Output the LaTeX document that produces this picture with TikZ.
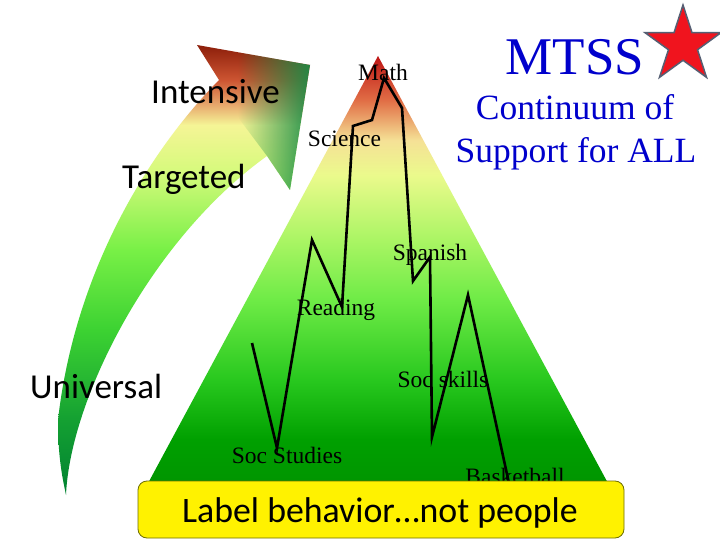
\documentclass[tikz,border=0pt]{standalone}
\usepackage{fontspec}
\setmainfont{Liberation Serif}
\newfontfamily\calib{Carlito}
\usetikzlibrary{shapes.geometric,fadings}

\definecolor{tA}{RGB}{190,20,20}
\definecolor{tB}{RGB}{225,110,70}
\definecolor{tC}{RGB}{245,225,150}
\definecolor{tD}{RGB}{235,250,140}
\definecolor{tE}{RGB}{170,245,100}
\definecolor{tF}{RGB}{110,235,70}
\definecolor{tG}{RGB}{40,200,30}
\definecolor{tH}{RGB}{0,160,0}
\definecolor{tI}{RGB}{0,145,0}
\pgfdeclareverticalshading{trishade}{100bp}{color(0bp)=(tI); color(25bp)=(tI); color(31.8bp)=(tH); color(38.5bp)=(tG); color(47.5bp)=(tF); color(54.3bp)=(tE); color(61.6bp)=(tD); color(65.5bp)=(tC); color(70bp)=(tB); color(75bp)=(tA); color(100bp)=(tA)}

\definecolor{aA}{RGB}{140,30,10}
\definecolor{aB}{RGB}{205,85,50}
\definecolor{aC}{RGB}{232,170,110}
\definecolor{aD}{RGB}{245,245,150}
\definecolor{aE}{RGB}{215,250,125}
\definecolor{aF}{RGB}{120,240,70}
\definecolor{aG}{RGB}{60,210,50}
\definecolor{aH}{RGB}{20,160,50}
\definecolor{aI}{RGB}{0,130,50}
\pgfdeclareverticalshading{arrshade}{100bp}{color(0bp)=(aI); color(25bp)=(aI); color(33.3bp)=(aH); color(43.3bp)=(aG); color(52.2bp)=(aF); color(61.1bp)=(aE); color(66.1bp)=(aD); color(68.3bp)=(aC); color(71.1bp)=(aB); color(75bp)=(aA); color(100bp)=(aA)}
\tikzfading[name=rightopaque, left color=transparent!100, right color=transparent!5]

\definecolor{titleblue}{RGB}{0,0,204}
\definecolor{starred}{RGB}{240,20,30}
\definecolor{starline}{RGB}{85,95,115}
\definecolor{boxline}{RGB}{110,110,0}
\definecolor{headgreen}{RGB}{25,140,70}

\begin{document}
\begin{tikzpicture}[x=1pt,y=-1pt,
  lbl/.style={font=\fontsize{23.5}{28}\selectfont, anchor=base, inner sep=0pt},
  tier/.style={font=\calib\fontsize{35}{42}\selectfont, anchor=base west, inner sep=0pt},
  ttl/.style={font=\fontsize{35.5}{42}\selectfont, text=titleblue, anchor=base, inner sep=0pt},
  zig/.style={line width=2.6pt, line join=miter}]
\useasboundingbox (0,0) rectangle (720,540);
\fill[white] (0,0) rectangle (720,540);

% triangle
\shade[shading=trishade] (378,56) -- (617,500) -- (139,500) -- cycle;

% curved arrow
\def\arrowpath{(219,80) -- (197,45) -- (310,65) -- (290,190) -- (267,156)
   .. controls (150,240) and (70,400) .. (66,495)
   .. controls (63,480) and (58,460) .. (58,420)
   .. controls (75,270) and (150,150) .. (219,80) -- cycle}
\shade[shading=arrshade] \arrowpath;
\begin{scope}
  \clip (219,80) -- (197,45) -- (310,65) -- (290,190) -- (267,156) -- (240,120) -- cycle;
  \fill[headgreen, path fading=rightopaque] (238,40) rectangle (312,195);
\end{scope}

% tier labels
\node[tier] (intensive) at (151,104) {Intensive};
\node[tier] (targeted) at (122,189) {Targeted};
\node[tier] (universal) at (30,398) {Universal};

% title
\node[ttl, font=\fontsize{53}{60}\selectfont] (mtss) at (575,75) {MTSS};
\node[ttl] (cont) at (575,120) {Continuum of};
\node[ttl] (supp) at (576,163) {Support for ALL};
\node[star, star points=5, star point ratio=2.618, minimum size=80pt, inner sep=0pt,
      fill=starred, draw=starline, line width=1.5pt] (star) at (683,45) {};

% subject labels
\node[lbl] (math) at (383,81) {Math};
\node[lbl] (science) at (344.5,147) {Science};
\node[lbl] (spanish) at (430,260) {Spanish};
\node[lbl] (reading) at (336,315) {Reading};
\node[lbl] (socskills) at (443,387) {Soc skills};
\node[lbl] (socstudies) at (287,463) {Soc Studies};
\node[lbl] (basket) at (515,484) {Basketball};

% zigzag
\coordinate (z1) at (252,343);
\coordinate (z2) at (277,448);
\coordinate (z3) at (312,240);
\coordinate (z4) at (342,307);
\coordinate (z5) at (353,126);
\coordinate (z6) at (372,120);
\coordinate (z7) at (384,78);
\coordinate (z8) at (402,108);
\coordinate (z9) at (413,281);
\coordinate (z10) at (430,257);
\coordinate (z11) at (432,437);
\coordinate (z12) at (468,295);
\coordinate (z13) at (510,488);
\draw[zig] (z1) -- (z2) -- (z3) -- (z4) -- (z5) -- (z6) -- (z7) -- (z8) -- (z9) -- (z10) -- (z11) -- (z12) -- (z13);

% bottom box
\node[draw=boxline, fill=yellow, rounded corners=9pt, line width=0.8pt,
      minimum width=486pt, minimum height=57pt, inner sep=0pt] (box) at (381,509.5) {};
\node[font=\calib\fontsize{35.8}{42}\selectfont, anchor=base, inner sep=0pt] (boxtext) at (380,522) {Label behavior…not people};
\end{tikzpicture}
\end{document}
